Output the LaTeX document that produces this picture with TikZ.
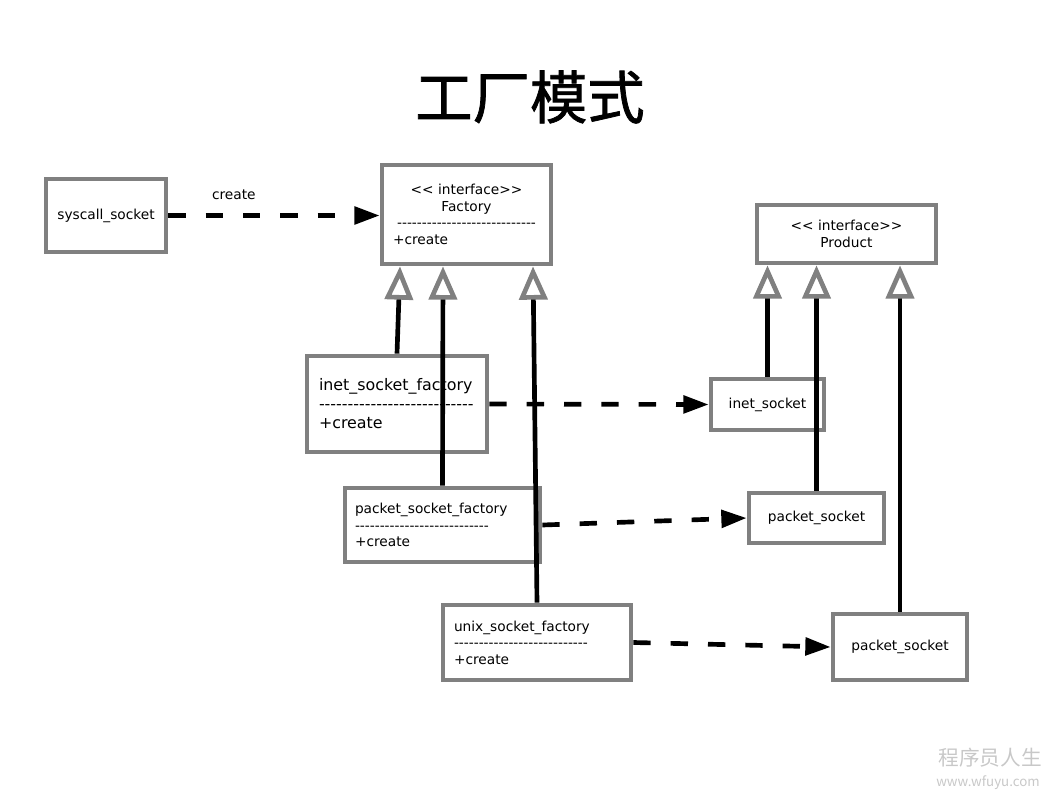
\documentclass[tikz,border=0pt]{standalone}
\usepackage{fontspec}
\setmainfont{DejaVu Sans}
\newfontfamily\cjk{Noto Sans CJK SC}
\newfontfamily\cjktitle{Noto Sans CJK SC}[FakeBold=1.3]
\usetikzlibrary{arrows.meta}
\newlength{\pxu}\setlength{\pxu}{0.75pt}
\definecolor{boxgray}{RGB}{128,128,128}
\definecolor{markgray}{RGB}{200,200,200}
\def\dashrow#1{\foreach\k in {1,...,#1}{\mbox{-}}}
\def\guil#1{\mbox{#1}\mbox{#1}}
\tikzset{
  cls/.style={draw=boxgray, line width=3.5pt, fill=white, inner sep=0pt, font=\fontsize{10.3}{12.4}\selectfont},
  inherit/.style={line width=3.5pt, -{Triangle[length=25pt, width=21pt, fill=white, color=boxgray]}},
  depend/.style={line width=3.5pt, dash pattern=on 13pt off 15pt, -{Triangle[length=19pt, width=13pt]}},
}

\begin{document}
\begin{tikzpicture}[x=\pxu, y=-\pxu]
		%%%%% START %%%%%
		\useasboundingbox (0,0) rectangle (1058,794);
		
		\node[font=\cjktitle\fontsize{43}{50}\selectfont] (title) at (530,97) {工厂模式};
		
		% interfaces
		\node[cls, minimum width=120\pxu, minimum height=73\pxu] (sys) at (106,215.5) {syscall\_socket};
		\node[cls, minimum width=169\pxu, minimum height=99\pxu, text width=147\pxu, align=center] (factory) at (466.5,214.5)
			{\guil{<} interface\guil{>}\\Factory\\\dashrow{28}\\\makebox[147\pxu][l]{+create}};
		\node[cls, minimum width=179\pxu, minimum height=58\pxu, align=center] (product) at (846.5,234)
			{\guil{<} interface\guil{>}\\Product};
		
		% factories
		\node[cls, minimum width=180\pxu, minimum height=96\pxu, text width=156\pxu, align=left,
			font=\fontsize{11.9}{14.3}\selectfont] (inetf) at (397,404) {inet\_socket\_factory\\\dashrow{27}\\+create};
		\node[cls, minimum width=195\pxu, minimum height=74\pxu, text width=175\pxu, align=left] (packetf) at (442.5,525)
			{packet\_socket\_factory\\\dashrow{27}\\+create};
		\node[cls, minimum width=188\pxu, minimum height=75\pxu, text width=166\pxu, align=left] (unixf) at (537,642.5)
			{unix\_socket\_factory\\\dashrow{27}\\+create};
		
		% products
		\node[cls, minimum width=113\pxu, minimum height=51\pxu] (inets) at (767.5,404.5) {inet\_socket};
		\node[cls, minimum width=135\pxu, minimum height=50\pxu] (packets) at (816.5,518) {packet\_socket};
		\node[cls, minimum width=134\pxu, minimum height=66\pxu] (packets2) at (900,647) {packet\_socket};
		
		% realisation
		\coordinate (fa) at ([xshift=-66.5\pxu]factory.south);
		\coordinate (fb) at ([xshift=-23.5\pxu]factory.south);
		\coordinate (fc) at ([xshift=66.5\pxu]factory.south);
		\draw[inherit] (inetf.north) -- (fa);
		\draw[inherit] (packetf.north) -- (fb);
		\draw[inherit] (unixf.north) -- (fc);
		\draw[inherit] (inets.north) -- (inets.north |- product.south);
		\draw[inherit] (packets.north) -- (packets.north |- product.south);
		\draw[inherit] (packets2.north) -- (packets2.north |- product.south);
		
		% create
		\draw[depend] (sys.east) -- node[pos=0.31, above=9\pxu, font=\fontsize{10.3}{12.4}\selectfont] (lblcreate) {create} (factory.west |- sys.east);
		\draw[depend] (inetf.east) -- (inets.west);
		\draw[depend] (packetf.east) -- (packets.west);
		\draw[depend] (unixf.east) -- (packets2.west);
		
		\node[text=markgray, font=\cjk\fontsize{15.5}{18}\selectfont] (mark) at (990,758) {程序员人生};
		\node[text=markgray, font=\cjk\fontsize{10}{12}\selectfont] (site) at (988,783) {www.wfuyu.com};
		
		%%%%% END %%%%%
	\end{tikzpicture}
\end{document}
